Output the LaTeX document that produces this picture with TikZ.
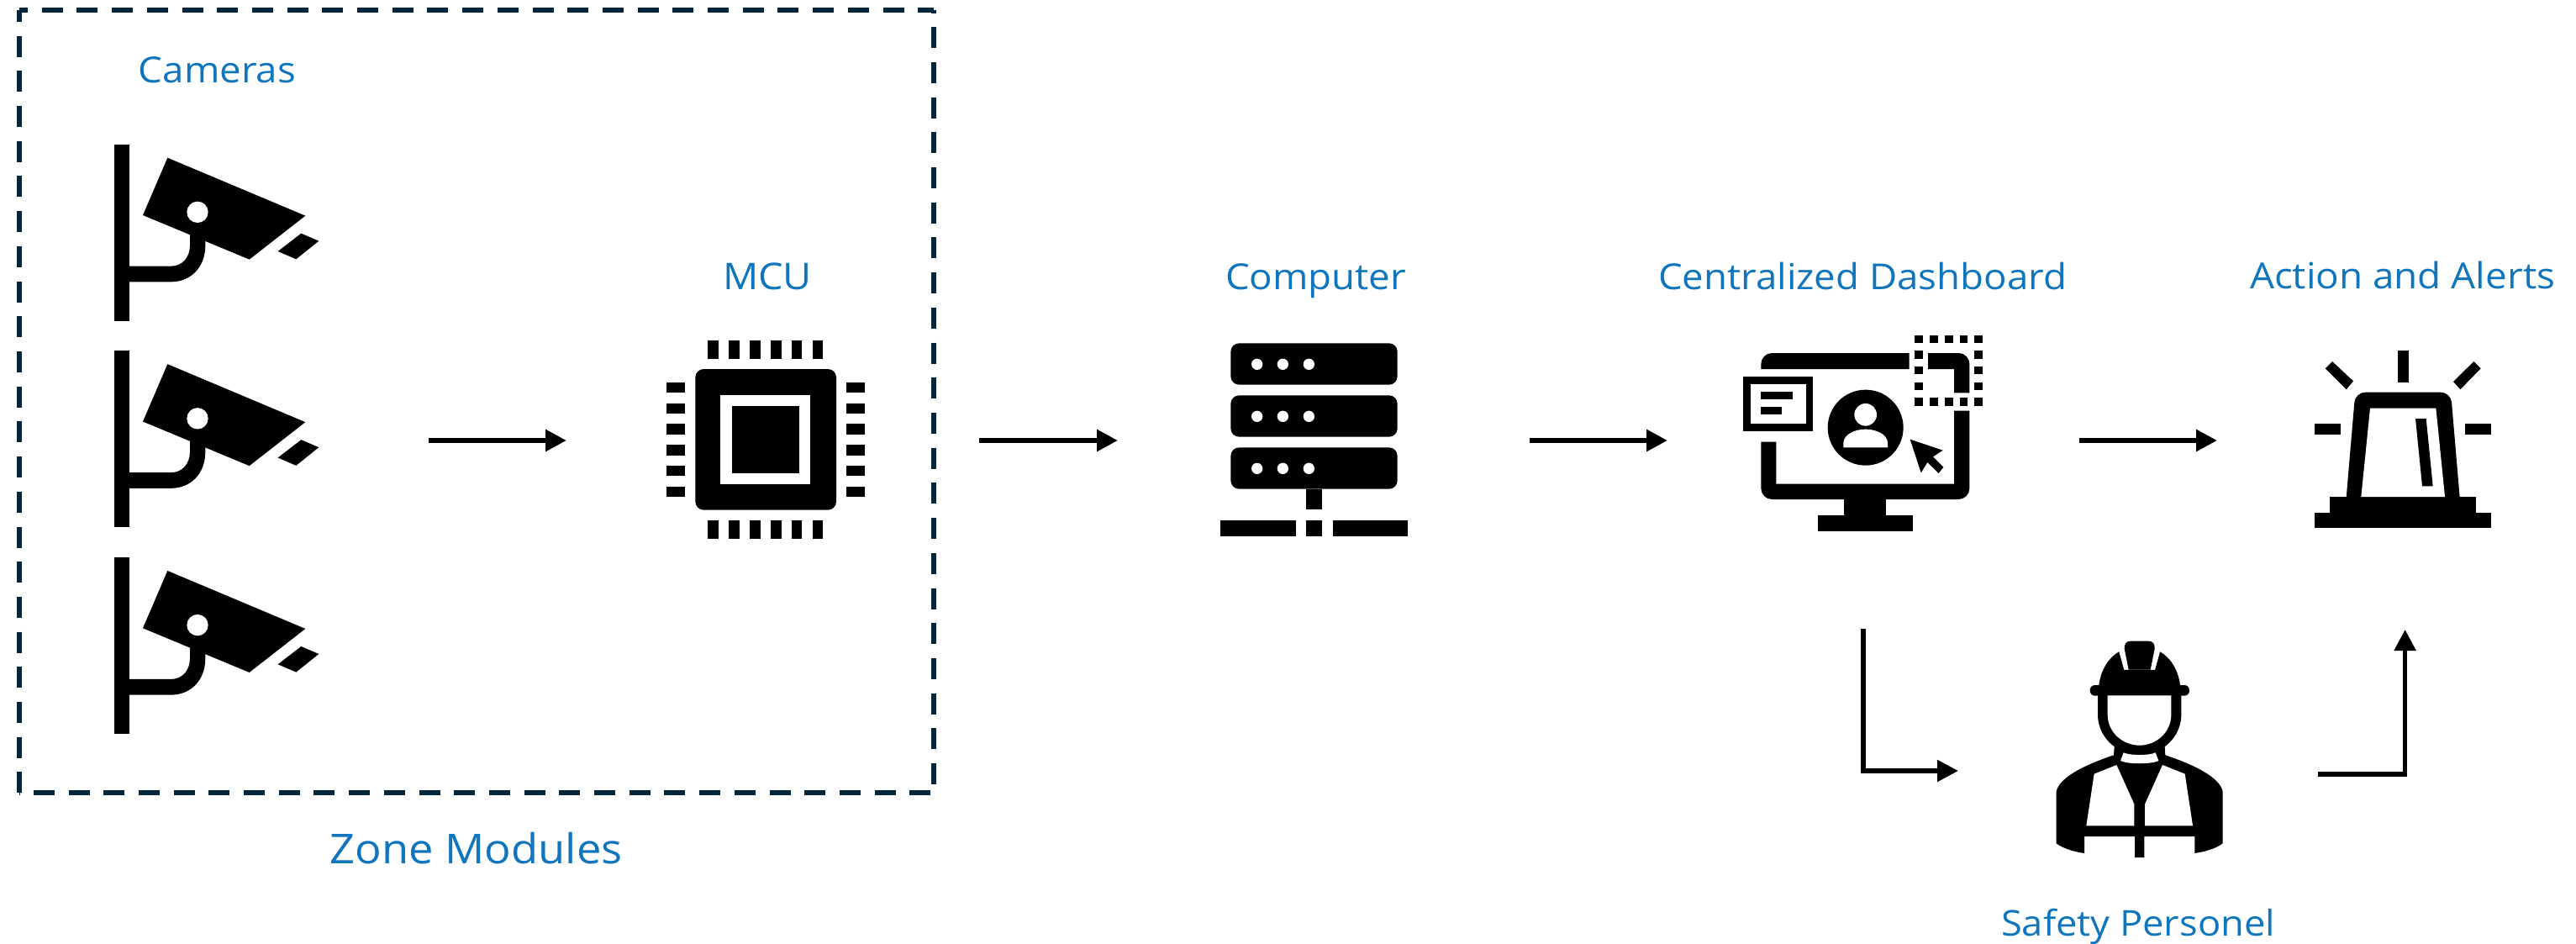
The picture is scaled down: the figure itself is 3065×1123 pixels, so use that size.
\documentclass[tikz,border=0pt]{standalone}
\usepackage{graphicx}
\usepackage{fontspec}
\setmainfont[FakeStretch=1.07]{Open Sans}
\usetikzlibrary{arrows.meta}
\definecolor{labelblue}{HTML}{0F75BD}
\definecolor{framenavy}{HTML}{04263A}
\newcommand\fitlabel[2]{\resizebox{#1pt}{!}{\fontsize{44}{50}\selectfont #2}}
\tikzset{
  lab/.style={inner sep=0pt,outer sep=0pt,anchor=base,text=labelblue},
  framedash/.style={draw=framenavy,line width=6pt,dash pattern=on 25pt off 16.7pt},
  flow/.style={draw=black,line width=5.5pt,-{Triangle[length=25pt,width=25pt]}},
  straightflow/.style={flow,line width=6pt}
}
\newcommand\camicon[1]{%
  \begin{scope}[shift={(100,#1)},scale=1/3]
    \fill (107,65) rectangle (163,695);
    \fill (160,500) -- (310,500) .. controls (350,500) and (378,470) .. (378,425) -- (378,370) -- (433,390) -- (433,425) .. controls (433,505) and (380,556) .. (310,556) -- (160,556) -- cycle;
    \fill (298,113) -- (790,320) -- (590,476) -- (210,318) -- cycle;
    \fill (775,383) -- (838,410) -- (757,475) -- (692,447) -- cycle;
    \fill[white] (405,307) circle (38);
  \end{scope}}
\begin{document}
\begin{tikzpicture}[x=1pt,y=-1pt]
\useasboundingbox (0,0) rectangle (3065,1123);
\fill[white] (0,0) rectangle (3065,1123);

% named anchor points
\coordinate (tl) at (23,12.3);
\coordinate (tr) at (1111,12.3);
\coordinate (bl) at (23,943);
\coordinate (br) at (1111,943);
\coordinate (camout) at (510,524);
\coordinate (mcuin) at (674,524);
\coordinate (mcuout) at (1165,524);
\coordinate (compin) at (1330,524);
\coordinate (compout) at (1820,524);
\coordinate (dashin) at (1984,524);
\coordinate (dashout) at (2474,524);
\coordinate (alertin) at (2638,524);
\coordinate (dashdown) at (2217,748);
\coordinate (workin) at (2330,917);
\coordinate (workout) at (2758,921);
\coordinate (alertup) at (2861.6,749);

% zone frame
\draw[framedash,dash phase=15pt] (tl) -- (tr);
\draw[framedash,dash phase=21.7pt] (tr) -- (br);
\draw[framedash,dash phase=24.9pt] (bl) -- (br);
\draw[framedash,dash phase=11.3pt] (tl) -- (bl);

% cameras
\camicon{150}
\camicon{395.5}
\camicon{641.3}

% MCU
\begin{scope}[shift={(760,380)},scale=1/3]
  \fill[rounded corners=10pt] (202,177) rectangle (705,680);
  \fill[white] (292,270) rectangle (612,588);
  \fill (332,308) rectangle (574,550);
  \foreach \i in {0,...,5}{
    \fill ({247+74.6*\i},75) rectangle ({285+74.6*\i},140);
    \fill ({247+74.6*\i},716) rectangle ({285+74.6*\i},782);
    \fill (98,{224+74.6*\i}) rectangle (165,{261+74.6*\i});
    \fill (740,{224+74.6*\i}) rectangle (806,{261+74.6*\i});
  }
\end{scope}

% server
\begin{scope}[shift={(1420,390)},scale=1/3]
  \foreach \y in {0,186,372}{
    \fill[rounded corners=10pt] (133,55+\y) rectangle (728,203+\y);
    \foreach \x in {227,319,412}{
      \fill[white] (\x,130+\y) circle (20);
    }
  }
  \fill (403,575) rectangle (458,649);
  \fill (97,686) rectangle (365,743);
  \fill (403,686) rectangle (458,743);
  \fill (497,686) rectangle (765,743);
\end{scope}

% dashboard
\begin{scope}[shift={(2050,380)},scale=1/3]
  \fill (136,177) [rounded corners=13pt] -- (136,120) [sharp corners] -- (665,120) -- (665,177) -- cycle;
  \fill (732,120) [rounded corners=13pt] -- (880,120) [sharp corners] -- (880,262) -- (825,262) -- (825,177) -- (732,177) -- cycle;
  \fill (825,326) -- (880,326) [rounded corners=13pt] -- (880,642) -- (136,642) [sharp corners] -- (136,437) -- (190,437) -- (190,587) -- (825,587) -- cycle;
  \fill (433,640) rectangle (583,698);
  \fill (340,698) rectangle (677,755);
  \foreach \x in {699,753,807,860,912}{
    \fill (\x-14,56) rectangle (\x+14,84);
    \fill (\x-14,280) rectangle (\x+14,308);
  }
  \foreach \y in {126,182,238}{
    \fill (685,\y-14) rectangle (713,\y+14);
    \fill (898,\y-14) rectangle (926,\y+14);
  }
  \fill (72,204) rectangle (322,400);
  \fill[white] (100,232) rectangle (297,373);
  \fill (136,257) rectangle (249,284);
  \fill (136,313) rectangle (211,340);
  \fill (509,386) circle (135);
  \fill[white] (509,340) circle (40);
  \fill[white] (430,457) -- (430,440) .. controls (432,410) and (470,392) .. (509,392) .. controls (548,392) and (586,410) .. (588,440) -- (588,457) -- cycle;
  \fill (668,428) -- (785,467) -- (750,490) -- (787,527) -- (770,549) -- (730,510) -- (707,547) -- cycle;
\end{scope}

% alert
\begin{scope}[shift={(2730,400)},scale=1/3]
  \fill (72,630) rectangle (703,685);
  \fill (127,573) rectangle (648,632);
  \fill (185,576) [rounded corners=12pt] -- (217,200) -- (558,200) [sharp corners] -- (590,576) -- cycle;
  \fill[white] (270,257) -- (505,257) -- (537,573) -- (238,573) -- cycle;
  \fill (432,294) -- (470,294) -- (494,535) -- (456,535) -- cycle;
  \fill (369,52) rectangle (407,165);
  \fill (72,313) rectangle (165,350);
  \fill (610,313) rectangle (703,350);
  \fill (135,90) -- (210,160) -- (185,190) -- (110,115) -- cycle;
  \fill (640,90) -- (665,115) -- (592,190) -- (567,162) -- cycle;
\end{scope}

% worker
\begin{scope}[shift={(2420,750)},scale=1/3]
  \fill (80,760) -- (80,575) .. controls (90,525) and (180,480) .. (285,445) -- (288,400) -- (466,400) -- (469,445) .. controls (574,480) and (664,525) .. (674,575) -- (674,760) .. controls (650,778) and (610,790) .. (574,795) -- (574,735) -- (394,735) -- (394,810) -- (360,810) -- (360,735) -- (180,735) -- (180,795) .. controls (144,790) and (104,778) .. (80,760) -- cycle;
  \fill (228,225) -- (228,300) .. controls (228,350) and (255,395) .. (295,420) -- (459,420) .. controls (499,395) and (526,350) .. (526,300) -- (526,225) -- cycle;
  \fill (230,232) -- (232,195) .. controls (240,135) and (270,95) .. (305,75) -- (322,140) -- (432,140) -- (449,75) .. controls (484,95) and (514,135) .. (522,195) -- (524,232) -- cycle;
  \fill[white] (303,72) -- (322,62) -- (340,140) -- (322,140) -- cycle;
  \fill[white] (451,72) -- (432,62) -- (414,140) -- (432,140) -- cycle;
  \fill (338,140) -- (323,65) .. controls (322,48) and (330,38) .. (345,38) -- (410,38) .. controls (424,38) and (432,48) .. (431,65) -- (416,140) -- cycle;
  \fill[rounded corners=6pt] (200,195) rectangle (555,233);
  \fill[white] (263,232) -- (490,232) -- (490,300) .. controls (490,365) and (435,410) .. (377,410) .. controls (319,410) and (263,365) .. (263,300) -- cycle;
  \fill[white] (320,436) .. controls (345,447) and (409,447) .. (434,436) -- (445,465) .. controls (420,478) and (334,478) .. (309,465) -- cycle;
  \fill[white] (215,512) -- (295,480) -- (358,620) -- (358,697) -- (187,697) -- cycle;
  \fill[white] (539,512) -- (459,480) -- (396,620) -- (396,697) -- (567,697) -- cycle;
\end{scope}

% connectors
\draw[straightflow] (camout) -- (mcuin);
\draw[straightflow] (mcuout) -- (compin);
\draw[straightflow] (compout) -- (dashin);
\draw[straightflow] (dashout) -- (alertin);
\draw[flow] (dashdown) |- (workin);
\draw[flow] (workout) -| (alertup);

% labels
\node[lab] (cameras) at (258.5,99) {\fitlabel{187}{Cameras}};
\node[lab] (mcu) at (913,344) {\fitlabel{106}{MCU}};
\node[lab] (computer) at (1565.5,344) {\fitlabel{215}{Computer}};
\node[lab] (dashboard) at (2216,344) {\fitlabel{486}{Centralized Dashboard}};
\node[lab] (alerts) at (2858.5,344) {\fitlabel{363}{Action and Alerts}};
\node[lab] (zone) at (566.5,1027.5) {\fitlabel{348}{Zone Modules}};
\node[lab] (safety) at (2544,1113) {\fitlabel{326}{Safety Personel}};
\end{tikzpicture}
\end{document}
